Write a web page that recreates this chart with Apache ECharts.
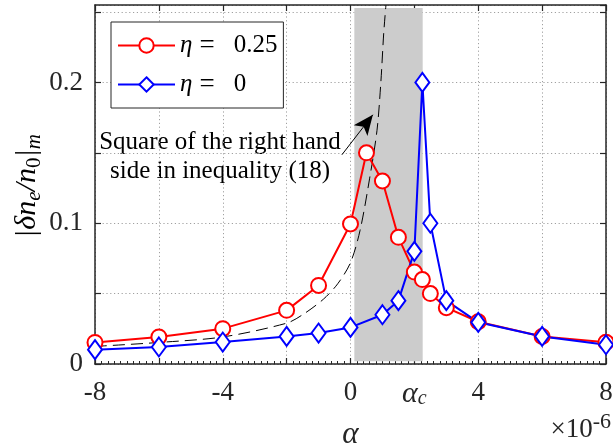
<!DOCTYPE html>
<html>
<head>
<meta charset="utf-8">
<script src="https://cdn.jsdelivr.net/npm/echarts@6/dist/echarts.min.js"></script>
<style>
html,body{margin:0;padding:0;background:#fff;}
#chart{width:613px;height:445px;}
</style>
</head>
<body>
<div id="chart"></div>
<script>
// ---- data ----
const alphaRed = [-8, -6, -4, -2, -1, 0, 0.5, 1, 1.5, 2, 2.25, 2.5, 3, 4, 6, 8];
const eta025 = [0.0153, 0.0192, 0.0251, 0.0381, 0.0558, 0.0995, 0.150, 0.130, 0.090, 0.0653, 0.0600, 0.0500, 0.0400, 0.0300, 0.0196, 0.0155];
const alphaBlue = [-8, -6, -4, -2, -1, 0, 1, 1.5, 2, 2.25, 2.5, 3, 4, 6, 8];
const eta0 = [0.0102, 0.0121, 0.0156, 0.0196, 0.0220, 0.0260, 0.0350, 0.0450, 0.0800, 0.2000, 0.1000, 0.0450, 0.0296, 0.0196, 0.0137];
const alphaBound = [-8, -6, -4, -2, -1.5, -0.85, -0.4, 0, 0.3, 0.6, 0.83, 0.95, 1.04, 1.11];
const boundVals = [0.0125, 0.0153, 0.0192, 0.029, 0.035, 0.046, 0.057, 0.072, 0.095, 0.132, 0.166, 0.200, 0.235, 0.255];
const bandX = [0.12, 2.26];
const bandY = [0.002, 0.2528];
const arrowFrom = [-0.27, 0.1486];
const arrowTo = [0.70, 0.1770];
const xTickValues = [-8, -6, -4, -2, 0, 2, 4, 6, 8];
const xTickLabels = ['-8', '', '-4', '', '0', '{a|α}{c|c}', '4', '', '8'];
const yLabelValues = [0, 0.1, 0.2];
const yTickLabels = ['0', '0.1', '0.2'];
const seriesNames = ['η = 0.25', 'η = 0'];
const annotation = 'Square of the right hand\nside in inequality (18)';

const Y_MAX = 0.255;
const SERIF = '"Liberation Serif", "Times New Roman", serif';
const zip = (xs, ys) => xs.map((x, i) => [x, ys[i]]);
const lookup = (vals, labels) => v => {
  const i = vals.findIndex(t => Math.abs(t - v) < 1e-9);
  return i >= 0 ? labels[i] : '';
};

const chart = echarts.init(document.getElementById('chart'), null, {renderer: 'canvas'});
const frame = {onZero: false, lineStyle: {color: '#262626', width: 1.5}};
const tickStyle = {show: true, inside: true, length: 6, lineStyle: {color: '#262626', width: 1.2}};
const gridStyle = {color: '#a0a0a0', type: [1.2, 2.6], width: 1};

const option = {
  animation: false,
  backgroundColor: '#fff',
  grid: {left: 95, right: 7, top: 5, bottom: 81, containLabel: false, outerBoundsMode: 'none'},
  legend: {
    left: 111, top: 22, orient: 'vertical',
    padding: [10, 6, 10, 6],
    itemWidth: 57, itemHeight: 18, itemGap: 12,
    backgroundColor: '#fff', borderColor: '#262626', borderWidth: 1, borderRadius: 0,
    data: [
      {name: seriesNames[0], itemStyle: {color: '#fff', borderColor: '#ff0000', borderWidth: 2}, lineStyle: {color: '#ff0000', width: 2}},
      {name: seriesNames[1], itemStyle: {color: '#fff', borderColor: '#0000ff', borderWidth: 2}, lineStyle: {color: '#0000ff', width: 2}}
    ],
    formatter: n => '{i|η}{e|=}{n|' + n.split('= ')[1] + '}',
    textStyle: {fontFamily: SERIF, fontSize: 24, color: '#000', lineHeight: 18,
      rich: {
        i: {fontFamily: SERIF, fontStyle: 'italic', fontSize: 25, color: '#000', lineHeight: 18},
        e: {fontFamily: SERIF, fontSize: 27, color: '#000', lineHeight: 18, padding: [0, 19, 0, 7]},
        n: {fontFamily: SERIF, fontSize: 25, color: '#000', lineHeight: 18}
      }}
  },
  xAxis: [{
    type: 'value', min: -8, max: 8, interval: 2, position: 'bottom',
    axisLine: {show: true, ...frame},
    axisTick: tickStyle,
    minorTick: {show: true, splitNumber: 10, length: 3, lineStyle: {color: '#262626', width: 1}},
    splitLine: {show: true, lineStyle: gridStyle},
    axisLabel: {
      margin: 15, fontFamily: SERIF, fontSize: 27, color: '#262626',
      formatter: lookup(xTickValues, xTickLabels),
      rich: {
        a: {fontFamily: SERIF, fontStyle: 'italic', fontSize: 30, color: '#262626'},
        c: {fontFamily: SERIF, fontStyle: 'italic', fontSize: 20, color: '#262626', verticalAlign: 'bottom', lineHeight: 14}
      }
    },
    name: 'α', nameLocation: 'middle', nameGap: 55,
    nameTextStyle: {fontFamily: SERIF, fontStyle: 'italic', fontSize: 31, color: '#262626'}
  }, {
    type: 'value', min: -8, max: 8, interval: 2, position: 'top',
    axisLine: {show: true, ...frame},
    axisTick: tickStyle,
    axisLabel: {show: false}, splitLine: {show: false}
  }],
  yAxis: [{
    type: 'value', min: 0, max: Y_MAX, interval: 0.05, position: 'left',
    axisLine: {show: true, ...frame},
    axisTick: tickStyle,
    splitLine: {show: true, lineStyle: gridStyle},
    axisLabel: {margin: 12, fontFamily: SERIF, fontSize: 27, color: '#262626',
      showMaxLabel: false, formatter: lookup(yLabelValues, yTickLabels)}
  }, {
    type: 'value', min: 0, max: Y_MAX, interval: 0.05, position: 'right',
    axisLine: {show: true, ...frame},
    axisTick: tickStyle,
    axisLabel: {show: false}, splitLine: {show: false}
  }],
  series: [{
    name: 'bound', type: 'line', data: zip(alphaBound, boundVals), smooth: 0.3,
    showSymbol: false, symbol: 'none', silent: true, z: 2,
    lineStyle: {color: '#000', width: 1, type: [12, 6]},
    markArea: {silent: true, itemStyle: {color: '#cccccc'},
      data: [[{coord: [bandX[0], bandY[0]]}, {coord: [bandX[1], bandY[1]]}]]},
    markLine: {silent: true, symbol: ['none', 'arrow'], symbolSize: [13, 20],
      lineStyle: {color: '#000', width: 1, type: 'solid'}, label: {show: false},
      data: [[{coord: arrowFrom}, {coord: arrowTo}]]}
  }, {
    name: seriesNames[0], type: 'line', data: zip(alphaRed, eta025),
    symbol: 'circle', symbolSize: 15, z: 3,
    lineStyle: {color: '#ff0000', width: 2},
    itemStyle: {color: '#fff', borderColor: '#ff0000', borderWidth: 2}
  }, {
    name: seriesNames[1], type: 'line', data: zip(alphaBlue, eta0),
    symbol: 'diamond', symbolSize: [14, 19], z: 3,
    lineStyle: {color: '#0000ff', width: 2},
    itemStyle: {color: '#fff', borderColor: '#0000ff', borderWidth: 2}
  }],
  graphic: [{
    type: 'text', x: 220, y: 128, silent: true,
    style: {text: annotation, font: '25px ' + SERIF, fill: '#000', textAlign: 'center', align: 'center', lineHeight: 29}
  }, {
    type: 'text', right: 2, top: 411, silent: true,
    style: {
      text: '{a|×10}{b|-6}', fill: '#262626',
      rich: {
        a: {fontFamily: SERIF, fontSize: 27, color: '#262626', verticalAlign: 'bottom', lineHeight: 32},
        b: {fontFamily: SERIF, fontSize: 22, color: '#262626', verticalAlign: 'top', lineHeight: 30}
      }
    }
  }, {
    type: 'text', x: 27, y: 189, rotation: Math.PI / 2, silent: true,
    style: {
      text: '{m|\u2009|δn}{s|e}{m|/n}{u|0}{m||}{s|m}', align: 'center', verticalAlign: 'middle',
      textAlign: 'center', textVerticalAlign: 'middle',
      rich: {
        m: {fontFamily: SERIF, fontStyle: 'italic', fontSize: 30, color: '#262626', lineHeight: 36},
        s: {fontFamily: SERIF, fontStyle: 'italic', fontSize: 21, color: '#262626', lineHeight: 20, verticalAlign: 'bottom'},
        u: {fontFamily: SERIF, fontSize: 21, color: '#262626', lineHeight: 20, verticalAlign: 'bottom'}
      }
    }
  }]
};
chart.setOption(option);
</script>
</body>
</html>
